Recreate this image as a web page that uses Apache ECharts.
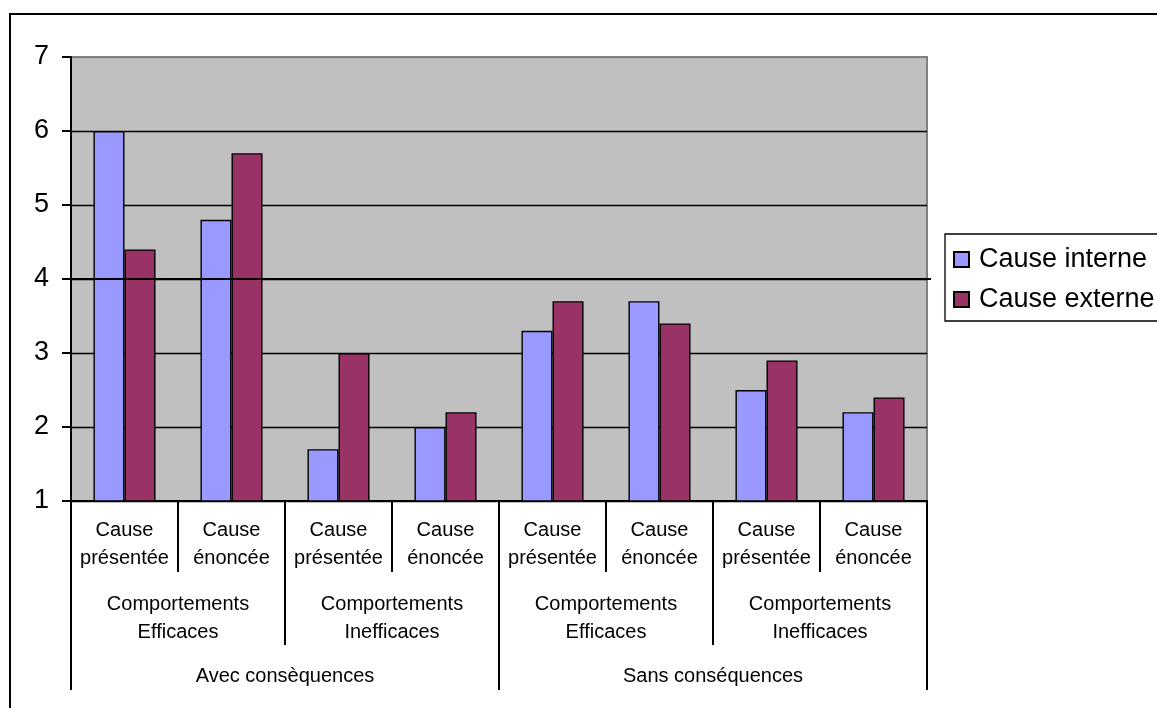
<!DOCTYPE html>
<html><head><meta charset="utf-8">
<script src="https://cdn.jsdelivr.net/npm/echarts@6/dist/echarts.min.js"></script>
<style>html,body{margin:0;padding:0;background:#fff}#c{width:1157px;height:708px}</style>
</head><body><div id="c"></div>
<script>
const level1 = ['Cause\nprésentée','Cause\nénoncée','Cause\nprésentée','Cause\nénoncée','Cause\nprésentée','Cause\nénoncée','Cause\nprésentée','Cause\nénoncée'];
const level2 = ['Comportements\nEfficaces','Comportements\nInefficaces','Comportements\nEfficaces','Comportements\nInefficaces'];
const level3 = ['Avec consèquences','Sans conséquences'];
const seriesNames = ['Cause interne','Cause externe'];
const causeInterne = [6.0, 4.8, 1.7, 2.0, 3.3, 3.7, 2.5, 2.2];
const causeExterne = [4.4, 5.7, 3.0, 2.2, 3.7, 3.4, 2.9, 2.4];
const yTicks = [1, 7, 1]; // min, max, interval
const refValue = 4;

const FONT = '"Liberation Sans", Arial, sans-serif';
const chart = echarts.init(document.getElementById('c'));
function xAx(data, tickLen, margin, show) {
  return {
    type: 'category', data: data, position: 'bottom', offset: 0, gridIndex: 0,
    axisLine: {show: show, lineStyle: {color: '#000', width: 2}},
    axisTick: {show: true, interval: 0, length: tickLen, lineStyle: {color: '#000', width: 2}},
    axisLabel: {interval: 0, margin: margin, color: '#000', fontSize: 20, lineHeight: 28, fontFamily: FONT},
    splitLine: {show: false}
  };
}
const option = {
  animation: false,
  backgroundColor: '#fff',
  grid: {left: 71, right: 230, top: 57, bottom: 207, show: true, backgroundColor: '#c0c0c0', borderColor: '#808080', borderWidth: 2},
  legend: {
    orient: 'vertical', left: 945, top: 234, data: seriesNames,
    itemWidth: 15, itemHeight: 15, itemGap: 13, icon: 'rect',
    padding: [12, 40, 8, 8], borderColor: '#000', borderWidth: 1.3, backgroundColor: '#fff',
    textStyle: {fontSize: 27, color: '#000', fontFamily: FONT, padding: [0, 0, 0, 5]}
  },
  xAxis: [xAx(level1, 71, 15, true), xAx(level2, 144, 89, false), xAx(level3, 189, 161, false)],
  yAxis: {
    type: 'value', min: yTicks[0], max: yTicks[1], interval: yTicks[2],
    axisLine: {show: true, lineStyle: {color: '#000', width: 2}},
    axisTick: {show: true, length: 9, lineStyle: {color: '#000', width: 2}},
    axisLabel: {color: '#000', fontSize: 27, margin: 22, fontFamily: FONT},
    splitLine: {show: true, lineStyle: {color: ['#000','#000','#000','#000','#000','#000','#808080'], width: 1.4}}
  },
  series: [
    {name: seriesNames[0], type: 'bar', data: causeInterne, xAxisIndex: 0, barGap: '0%', barCategoryGap: '42%',
     itemStyle: {color: '#9999ff', borderColor: '#000', borderWidth: 1.4}},
    {name: seriesNames[1], type: 'bar', data: causeExterne, xAxisIndex: 0, barGap: '0%', barCategoryGap: '42%',
     itemStyle: {color: '#993366', borderColor: '#000', borderWidth: 1.4}}
  ]
};
chart.setOption(option);
const gr = chart.getModel().getComponent('grid', 0).coordinateSystem.getRect();
const yRef = chart.convertToPixel({yAxisIndex: 0}, refValue);
chart.setOption({graphic: [
  {type: 'rect', shape: {x: 10, y: 14, width: 1200, height: 760}, style: {fill: 'none', stroke: '#000', lineWidth: 2}, z: 100, silent: true},
  {type: 'line', shape: {x1: gr.x - 9, y1: yRef, x2: gr.x + gr.width + 4, y2: yRef}, style: {stroke: '#000', lineWidth: 2.2}, z: 100, silent: true}
]});
</script></body></html>
